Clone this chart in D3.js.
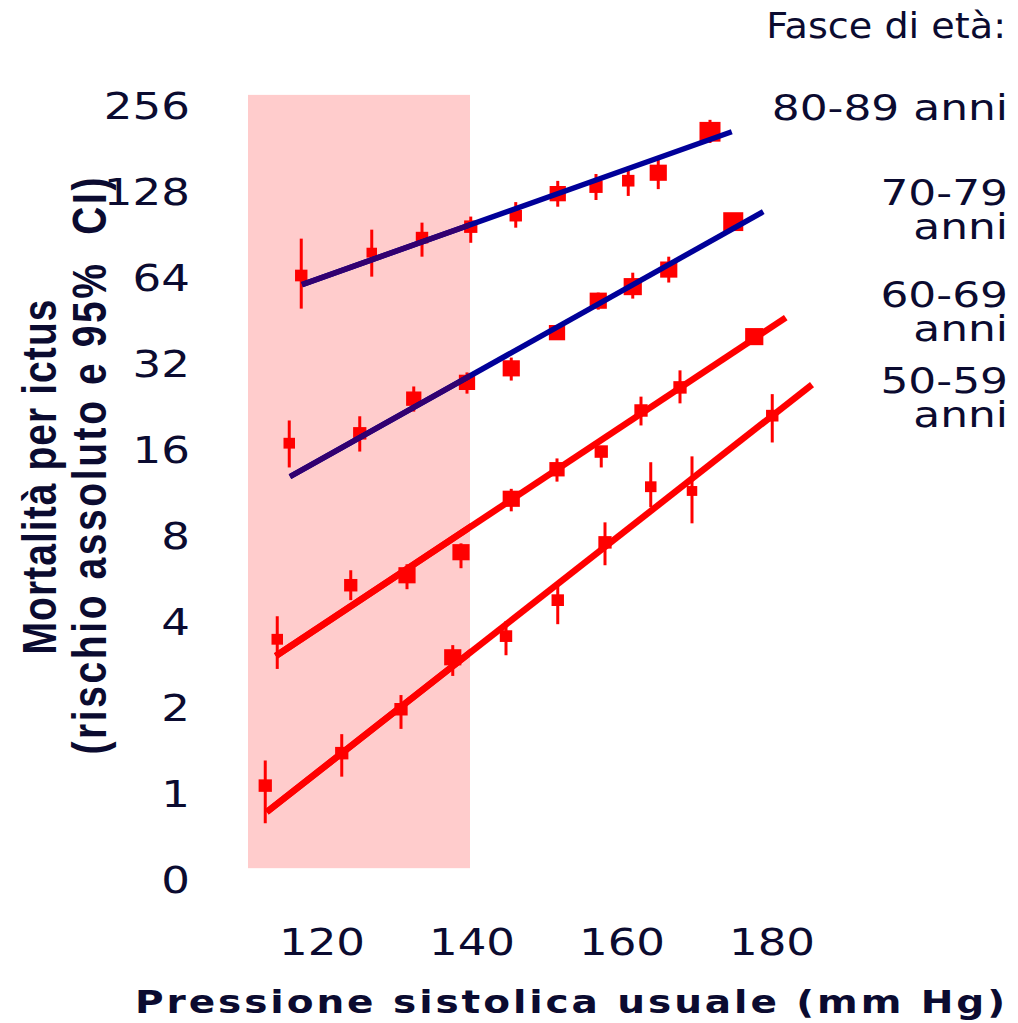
<!DOCTYPE html>
<html>
<head>
<meta charset="utf-8">
<title>Mortalità per ictus e pressione sistolica</title>
<script src="https://cdn.jsdelivr.net/npm/d3@7"></script>
<style>
  html, body { margin: 0; padding: 0; background: #ffffff; }
  svg { display: block; }
</style>
</head>
<body>
<svg id="chart" width="1018" height="1023"></svg>
<script>
// Age bands
const ageGroups = ["80-89 anni", "70-79 anni", "60-69 anni", "50-59 anni"];
const legendLines = [["80-89 anni"], ["70-79", "anni"], ["60-69", "anni"], ["50-59", "anni"]];

// Usual systolic pressure (mmHg) of each group point, stroke risk, 95% CI, relative weight
const sbp80  = [117.5, 126.9, 133.6, 140.1, 146.1, 151.7, 156.8, 161.1, 165.1, 172.0];
const risk80 = [65.3, 78.5, 88.6, 96.8, 105.8, 126.3, 133.6, 140.2, 149.5, 208];
const lo80   = [50.0, 64.7, 76, 85, 96, 113.7, 120, 124, 131, 190];
const hi80   = [87.9, 94.5, 100, 105, 118, 140, 148, 157, 170, 229];
const wt80   = [35, 25, 35, 40, 35, 60, 40, 35, 67, 100];

const sbp70  = [115.9, 125.3, 132.5, 139.6, 145.5, 151.6, 157.1, 161.7, 166.5, 175.1];
const risk70 = [16.9, 18.3, 24.2, 27.6, 30.9, 41.2, 53.3, 59.7, 68.5, 100.8];
const lo70   = [13.9, 15.8, 21.8, 25.2, 28.0, 39.0, 49.6, 54.2, 61.7, 97.6];
const hi70   = [20.3, 21.0, 26.7, 29.9, 33.7, 43.6, 56.9, 66.8, 76, 104];
const wt70   = [30, 40, 53, 60, 67, 60, 67, 75, 67, 91];

const sbp60  = [114.3, 124.1, 131.6, 138.8, 145.5, 151.6, 157.5, 162.8, 168.0, 177.9];
const risk60 = [3.48, 5.38, 5.83, 7.02, 10.8, 13.7, 15.8, 22.0, 26.5, 39.9];
const lo60   = [2.74, 4.77, 5.21, 6.17, 9.76, 12.4, 13.9, 19.5, 23.3, 37.4];
const hi60   = [4.19, 6.07, 6.37, 7.54, 11.7, 14.95, 16.5, 24.6, 30.4, 42.2];
const wt60   = [30, 40, 67, 67, 67, 53, 40, 40, 40, 75];

const sbp50  = [112.7, 122.9, 130.8, 137.7, 144.8, 151.7, 158.0, 164.1, 169.6, 180.3];
const risk50 = [1.07, 1.39, 1.98, 3.01, 3.57, 4.77, 7.60, 11.9, 11.5, 21.1];
const lo50   = [0.79, 1.15, 1.69, 2.59, 3.06, 3.93, 6.32, 10.1, 8.86, 17.0];
const hi50   = [1.31, 1.62, 2.22, 3.32, 4.03, 5.42, 8.93, 14.5, 15.2, 25.1];
const wt50   = [40, 40, 40, 67, 35, 35, 40, 30, 25, 35];

// Log-linear fit of each group (end points)
const fitSbp80 = [117.6, 174.9], fitRisk80 = [60.7, 208];
const fitSbp70 = [116.0, 179.1], fitRisk70 = [12.9, 109.2];
const fitSbp60 = [114.1, 182.1], fitRisk60 = [3.04, 46.5];
const fitSbp50 = [112.9, 185.6], fitRisk50 = [0.865, 27.1];

// Axis ticks
const xTicks = [120, 140, 160, 180];
const yTicks = [0.5, 1, 2, 4, 8, 16, 32, 64, 128, 256];
const yTickLabels = ["0", "1", "2", "4", "8", "16", "32", "64", "128", "256"];

// Optimal-pressure band (mmHg)
const bandSbp = [110.4, 140];
const bandRisk = [0.55, 280];

const groups = [
  { name: ageGroups[0], sbp: sbp80, risk: risk80, lo: lo80, hi: hi80, wt: wt80, fx: fitSbp80, fy: fitRisk80, color: "#000099", inBand: "#320070" },
  { name: ageGroups[1], sbp: sbp70, risk: risk70, lo: lo70, hi: hi70, wt: wt70, fx: fitSbp70, fy: fitRisk70, color: "#000099", inBand: "#320070" },
  { name: ageGroups[2], sbp: sbp60, risk: risk60, lo: lo60, hi: hi60, wt: wt60, fx: fitSbp60, fy: fitRisk60, color: "#ff0000", inBand: "#ff0000" },
  { name: ageGroups[3], sbp: sbp50, risk: risk50, lo: lo50, hi: hi50, wt: wt50, fx: fitSbp50, fy: fitRisk50, color: "#ff0000", inBand: "#ff0000" }
];

const textColor = "#0b0b30";
const stretch = 1.22;

const svg = d3.select("#chart");

const x = d3.scaleLinear().domain([120, 180]).range([320, 770]);
const y = d3.scaleLog().base(2).domain([0.5, 256]).range([880, 106]);
const box = d3.scaleSqrt().domain([0, 100]).range([0, 21]);

// Shaded band
svg.append("rect")
  .attr("x", x(bandSbp[0]))
  .attr("y", y(bandRisk[1]))
  .attr("width", x(bandSbp[1]) - x(bandSbp[0]))
  .attr("height", y(bandRisk[0]) - y(bandRisk[1]))
  .attr("fill", "#ffcccc");

svg.append("clipPath").attr("id", "bandClip")
  .append("rect")
  .attr("x", x(bandSbp[0]))
  .attr("y", y(bandRisk[1]))
  .attr("width", x(bandSbp[1]) - x(bandSbp[0]))
  .attr("height", y(bandRisk[0]) - y(bandRisk[1]));

// Points with confidence intervals
const gPts = svg.append("g");
groups.forEach(g => {
  const pts = g.sbp.map((s, i) => ({ s, r: g.risk[i], lo: g.lo[i], hi: g.hi[i], w: g.wt[i] }));
  gPts.selectAll(null).data(pts).enter().append("line")
    .attr("x1", d => x(d.s)).attr("x2", d => x(d.s))
    .attr("y1", d => y(d.hi)).attr("y2", d => y(d.lo))
    .attr("stroke", "#ff0000").attr("stroke-width", 3);
  gPts.selectAll(null).data(pts).enter().append("rect")
    .attr("x", d => x(d.s) - box(d.w) / 2)
    .attr("y", d => y(d.r) - box(d.w) * 0.47)
    .attr("width", d => box(d.w))
    .attr("height", d => box(d.w) * 0.94)
    .attr("fill", "#ff0000");
});

// Fitted lines
const line = d3.line().x(d => x(d[0])).y(d => y(d[1]));
groups.forEach(g => {
  const seg = g.fx.map((s, i) => [s, g.fy[i]]);
  const w = g.color === "#ff0000" ? 6.5 : 5.5;
  svg.append("path").attr("d", line(seg))
    .attr("fill", "none").attr("stroke", g.color).attr("stroke-width", w);
  svg.append("path").attr("d", line(seg))
    .attr("clip-path", "url(#bandClip)")
    .attr("fill", "none").attr("stroke", g.inBand).attr("stroke-width", w);
});

// Horizontally widened text helper
function wideText(sel, px, py, str, anchor, size, sx) {
  return sel.append("text")
    .attr("transform", `translate(${px},${py}) scale(${sx || stretch},1)`)
    .attr("text-anchor", anchor)
    .attr("font-family", "'DejaVu Sans', Verdana, sans-serif")
    .attr("font-size", size)
    .attr("fill", textColor)
    .text(str);
}

// Y tick labels
yTicks.forEach((t, i) => {
  wideText(svg, 190, y(t) + 13, yTickLabels[i], "end", 37);
});

// X tick labels
xTicks.forEach(t => {
  wideText(svg, x(t) + 2, 955, String(t), "middle", 37);
});

// X axis title
svg.append("text")
  .attr("transform", `translate(135,1013) scale(${stretch},1)`)
  .attr("font-family", "'DejaVu Sans', Verdana, sans-serif")
  .attr("font-size", 32)
  .attr("font-weight", "bold")
  .attr("fill", textColor)
  .attr("textLength", 870 / stretch)
  .attr("lengthAdjust", "spacing")
  .text("Pressione sistolica usuale (mm Hg)");

// Y axis title (two lines)
const yTitle = [
  { str: "Mortalità per ictus", bx: 56, cy: 477, len: 355 },
  { str: "(rischio assoluto e 95%  CI)", bx: 106, cy: 466, len: 577 }
];
yTitle.forEach(t => {
  svg.append("text")
    .attr("transform", `translate(${t.bx},${t.cy}) rotate(-90) scale(1,1.22)`)
    .attr("text-anchor", "middle")
    .attr("font-family", "'Liberation Sans', Arial, sans-serif")
    .attr("font-size", 39)
    .attr("font-weight", "bold")
    .attr("fill", textColor)
    .attr("textLength", t.len)
    .attr("lengthAdjust", "spacing")
    .style("white-space", "pre")
    .text(t.str);
});

// Legend
wideText(svg, 1006, 38, "Fasce di età:", "end", 36, 1.06);
const legendBase = [120, 205, 307, 393];
const legendLead = 34;
legendLines.forEach((lines, i) => {
  const t = svg.append("text")
    .attr("transform", `translate(1008,${legendBase[i]}) scale(${stretch},1)`)
    .attr("text-anchor", "end")
    .attr("font-family", "'DejaVu Sans', Verdana, sans-serif")
    .attr("font-size", 36)
    .attr("fill", textColor);
  lines.forEach((ln, j) => {
    t.append("tspan").attr("x", 0).attr("y", j * legendLead).text(ln);
  });
});
</script>
</body>
</html>
